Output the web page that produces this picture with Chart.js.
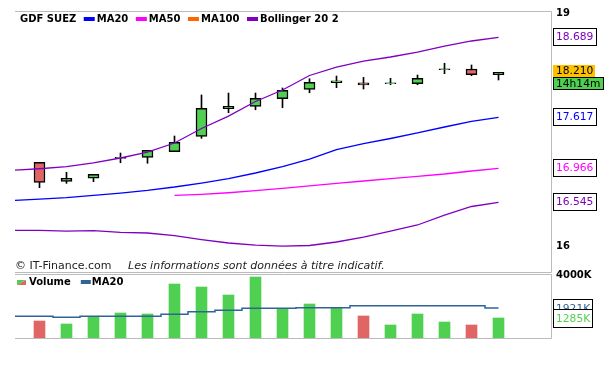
<!DOCTYPE html>
<html>
<head>
<meta charset="utf-8">
<script src="https://cdn.jsdelivr.net/npm/chart.js@4.4.0/dist/chart.umd.min.js"></script>
<style>
html, body { margin: 0; padding: 0; background: #fff; }
#cadre { position: relative; width: 616px; height: 376px; overflow: hidden; }
#prixChart { position: absolute; left: 0; top: 0; }
#volChart { position: absolute; left: 0; top: 260px; }
</style>
</head>
<body>
<div id="cadre">
<canvas id="prixChart" width="616" height="274"></canvas>
<canvas id="volChart" width="616" height="116"></canvas>
</div>
<script>
const nomValeur = 'GDF SUEZ';

// séances (index), la séance -1 sert seulement au départ des moyennes
const seances = [0, 1, 2, 3, 4, 5, 6, 7, 8, 9, 10, 11, 12, 13, 14, 15, 16, 17];
const seancesLignes = [-1, 0, 1, 2, 3, 4, 5, 6, 7, 8, 9, 10, 11, 12, 13, 14, 15, 16, 17];

const ouverture = [17.079, 16.834, 16.873, 17.13, 17.143, 17.215, 17.413, 17.768, 17.799, 17.897, 18.018, 18.105, 18.1, 18.09, 18.09, 18.27, 18.279, 18.206];
const cloture   = [16.821, 16.873, 16.924, 17.143, 17.233, 17.336, 17.773, 17.799, 17.902, 18.005, 18.108, 18.128, 18.075, 18.1, 18.16, 18.283, 18.206, 18.237];
const plusHaut  = [17.079, 16.95, 16.924, 17.198, 17.233, 17.417, 17.945, 17.97, 17.97, 18.035, 18.154, 18.189, 18.172, 18.16, 18.202, 18.353, 18.331, 18.237];
const plusBas   = [16.752, 16.808, 16.829, 17.073, 17.066, 17.215, 17.387, 17.717, 17.755, 17.781, 17.974, 18.039, 18.022, 18.077, 18.077, 18.219, 18.193, 18.138];

const bollHaut = [16.977, 16.996, 17.022, 17.07, 17.134, 17.211, 17.327, 17.514, 17.674, 17.861, 18.009, 18.196, 18.305, 18.382, 18.434, 18.498, 18.575, 18.64, 18.687];
const ma20     = [16.587, 16.606, 16.625, 16.654, 16.683, 16.718, 16.761, 16.812, 16.87, 16.941, 17.024, 17.121, 17.243, 17.32, 17.385, 17.456, 17.533, 17.606, 17.658];
const ma50     = [null, null, null, null, null, null, 16.654, 16.667, 16.687, 16.713, 16.744, 16.776, 16.808, 16.838, 16.868, 16.898, 16.928, 16.967, 17.001];
const bollBas  = [16.203, 16.203, 16.194, 16.2, 16.178, 16.169, 16.136, 16.085, 16.04, 16.014, 16.001, 16.008, 16.053, 16.117, 16.194, 16.272, 16.4, 16.51, 16.564];

const volume    = [1091, 899, 1393, 1605, 1541, 3467, 3274, 2761, 3917, 1881, 2183, 1945, 1413, 835, 1541, 1027, 835, 1285];
const volumeMa20 = [1393, 1393, 1329, 1393, 1393, 1393, 1522, 1689, 1778, 1907, 1907, 1945, 1945, 2074, 2074, 2074, 2074, 2074, 1921];

const ticksPrix = [16, 19];
const ticksVolume = [4000];

const legendeNoms = ['MA20', 'MA50', 'MA100', 'Bollinger 20 2'];
const etiquettesLignes = ['18.689', '17.617', '16.966', '16.545'];
const dernierCours = '18.210';
const heureCours = '14h14m';
const etiquettesVolume = ['1921K', '1285K'];

const bleu = '#0000ff';
const magenta = '#ff00ff';
const orange = '#ff6600';
const violet = '#8000c0';
const vert = '#50d050';
const rouge = '#e06666';
const bleuVol = '#306496';
const legendeCouleurs = [bleu, magenta, orange, violet];

const couleurSeance = (i) => cloture[i] >= ouverture[i] ? vert : rouge;

const policeNormale = '10.7px "DejaVu Sans"';
const policeGras = 'bold 10px "DejaVu Sans"';

function boite(ctx, texte, x, top, w, h, couleurTexte, fond, bordure) {
    ctx.fillStyle = fond;
    ctx.fillRect(x, top, w, h);
    if (bordure) {
        ctx.strokeStyle = '#000';
        ctx.lineWidth = 1;
        ctx.strokeRect(x + 0.5, top + 0.5, w - 1, h - 1);
    }
    ctx.font = policeNormale;
    ctx.fillStyle = couleurTexte;
    ctx.textAlign = 'left';
    ctx.textBaseline = 'middle';
    ctx.fillText(texte, x + 3, top + h / 2 + 0.5);
}

const decorPrix = {
    id: 'decorPrix',
    afterDraw(chart) {
        const { ctx, chartArea: a } = chart;
        const y = chart.scales.y;
        ctx.save();
        // cadre gris
        ctx.strokeStyle = '#bbbbbb';
        ctx.lineWidth = 1;
        ctx.beginPath();
        ctx.moveTo(a.left, a.top - 0.5);
        ctx.lineTo(a.right + 0.5, a.top - 0.5);
        ctx.lineTo(a.right + 0.5, a.bottom + 0.5);
        ctx.lineTo(a.left, a.bottom + 0.5);
        ctx.stroke();

        // légende
        ctx.font = policeGras;
        ctx.fillStyle = '#000';
        ctx.textAlign = 'left';
        ctx.textBaseline = 'middle';
        let x = 20;
        ctx.fillText(nomValeur, x, 19.5);
        x += ctx.measureText(nomValeur).width + 7.5;
        legendeNoms.forEach((nom, i) => {
            ctx.fillStyle = legendeCouleurs[i];
            ctx.fillRect(x, 17, 11, 4);
            ctx.fillStyle = '#000';
            ctx.fillText(nom, x + 13, 19.5);
            x += 13 + ctx.measureText(nom).width + 7.5;
        });

        // pied
        ctx.fillStyle = '#222';
        ctx.font = '11px "DejaVu Sans"';
        ctx.fillText('© IT-Finance.com', 15, 266);
        ctx.font = 'italic 11px "DejaVu Sans"';
        ctx.fillText('Les informations sont données à titre indicatif.', 128, 266);

        // étiquettes des moyennes
        chart.data.datasets.forEach(ds => {
            if (!ds.tag) return;
            const dernier = ds.data[ds.data.length - 1].y;
            const yc = Math.round(y.getPixelForValue(dernier));
            boite(ctx, ds.tag, 553, yc - 9, 44, 18, ds.borderColor, '#fff', true);
        });

        // dernier cours
        const yc = Math.round(y.getPixelForValue(cloture[cloture.length - 1]));
        boite(ctx, dernierCours, 553, yc - 7, 42, 12, '#000', '#ffc000', false);
        boite(ctx, heureCours, 553, yc + 5, 51, 13, '#000', vert, true);
        ctx.restore();
    }
};

const decorVolume = {
    id: 'decorVolume',
    afterDraw(chart) {
        const { ctx, chartArea: a } = chart;
        const y = chart.scales.y;
        ctx.save();
        ctx.strokeStyle = '#bbbbbb';
        ctx.lineWidth = 1;
        ctx.beginPath();
        ctx.moveTo(a.left, a.top - 0.5);
        ctx.lineTo(a.right + 0.5, a.top - 0.5);
        ctx.lineTo(a.right + 0.5, a.bottom + 0.5);
        ctx.lineTo(a.left, a.bottom + 0.5);
        ctx.stroke();

        // légende volume
        const ly = 22.5;
        ctx.fillStyle = vert;
        ctx.beginPath();
        ctx.moveTo(17, 20); ctx.lineTo(26, 20); ctx.lineTo(17, 25); ctx.closePath();
        ctx.fill();
        ctx.fillStyle = rouge;
        ctx.beginPath();
        ctx.moveTo(26, 20); ctx.lineTo(26, 25); ctx.lineTo(17, 25); ctx.closePath();
        ctx.fill();
        ctx.font = policeGras;
        ctx.fillStyle = '#000';
        ctx.textAlign = 'left';
        ctx.textBaseline = 'middle';
        ctx.fillText('Volume', 29, ly);
        let x = 29 + ctx.measureText('Volume').width + 10;
        ctx.fillStyle = bleuVol;
        ctx.fillRect(x, 20, 10, 4);
        ctx.fillStyle = '#000';
        ctx.fillText('MA20', x + 11, ly);

        // étiquettes
        const y1 = Math.round(y.getPixelForValue(volumeMa20[volumeMa20.length - 1]));
        boite(ctx, etiquettesVolume[0], 553, y1 - 9, 40, 19, bleuVol, '#fff', true);
        const y2 = Math.round(y.getPixelForValue(volume[volume.length - 1]));
        boite(ctx, etiquettesVolume[1], 553, y2 - 9, 40, 19, vert, '#fff', true);
        ctx.restore();
    }
};

const axeX = () => ({ type: 'linear', min: -0.907, max: 18.944, offset: false, bounds: 'data', display: false, grid: { offset: false } });

const prixChart = new Chart(document.getElementById('prixChart'), {
    type: 'line',
    data: {
        datasets: [
            { label: 'Bollinger haut', data: seancesLignes.map((x, i) => ({ x, y: bollHaut[i] })), borderColor: violet, tag: etiquettesLignes[0], order: 0 },
            { label: 'MA20', data: seancesLignes.map((x, i) => ({ x, y: ma20[i] })), borderColor: bleu, tag: etiquettesLignes[1], order: 0 },
            { label: 'MA50', data: seancesLignes.map((x, i) => ({ x, y: ma50[i] })), borderColor: magenta, tag: etiquettesLignes[2], order: 0 },
            { label: 'Bollinger bas', data: seancesLignes.map((x, i) => ({ x, y: bollBas[i] })), borderColor: violet, tag: etiquettesLignes[3], order: 0 },
            {
                type: 'bar', label: 'corps',
                data: seances.map((x, i) => ({ x, y: [ouverture[i], cloture[i]] })),
                backgroundColor: seances.map(couleurSeance),
                borderColor: '#000', borderWidth: 1.5, borderSkipped: false,
                barThickness: 11, grouped: false, order: 1
            },
            {
                type: 'bar', label: 'mèches',
                data: seances.map((x, i) => ({ x, y: [plusBas[i], plusHaut[i]] })),
                backgroundColor: '#000', barThickness: 1, grouped: false, order: 2
            }
        ]
    },
    options: {
        responsive: false,
        animation: false,
        layout: { padding: { left: 15, top: 12, bottom: 2, right: 0 } },
        plugins: { legend: { display: false }, tooltip: { enabled: false } },
        elements: { line: { borderWidth: 1.3, tension: 0, fill: false }, point: { radius: 0 } },
        scales: {
            x: axeX(),
            y: {
                type: 'linear', position: 'right', min: 15.667, max: 19.013, beginAtZero: false,
                grid: { display: false, drawTicks: false },
                border: { display: false },
                ticks: { padding: 5, color: '#000', font: { family: 'DejaVu Sans', size: 10, weight: 'bold' } },
                afterBuildTicks: s => { s.ticks = ticksPrix.map(v => ({ value: v })); },
                afterFit: s => { s.width = 65; s.paddingTop = 0; s.paddingBottom = 0; }
            }
        }
    },
    plugins: [decorPrix]
});

const volChart = new Chart(document.getElementById('volChart'), {
    type: 'line',
    data: {
        datasets: [
            {
                label: 'MA20', data: seancesLignes.map((x, i) => ({ x, y: volumeMa20[i] })),
                borderColor: bleuVol, borderWidth: 1.5, stepped: 'middle', order: 0
            },
            {
                type: 'bar', label: 'Volume',
                data: seances.map((x, i) => ({ x, y: volume[i] })),
                backgroundColor: seances.map(couleurSeance),
                barThickness: 11, grouped: false, order: 1
            }
        ]
    },
    options: {
        responsive: false,
        animation: false,
        layout: { padding: { left: 15, top: 15, bottom: 38, right: 0 } },
        plugins: { legend: { display: false }, tooltip: { enabled: false } },
        elements: { point: { radius: 0 } },
        scales: {
            x: axeX(),
            y: {
                type: 'linear', position: 'right', min: 0, max: 4045,
                grid: { display: false, drawTicks: false },
                border: { display: false },
                ticks: {
                    padding: 5, color: '#000', font: { family: 'DejaVu Sans', size: 10, weight: 'bold' },
                    callback: v => v + 'K'
                },
                afterBuildTicks: s => { s.ticks = ticksVolume.map(v => ({ value: v })); },
                afterFit: s => { s.width = 65; s.paddingTop = 0; s.paddingBottom = 0; }
            }
        }
    },
    plugins: [decorVolume]
});
</script>
</body>
</html>
